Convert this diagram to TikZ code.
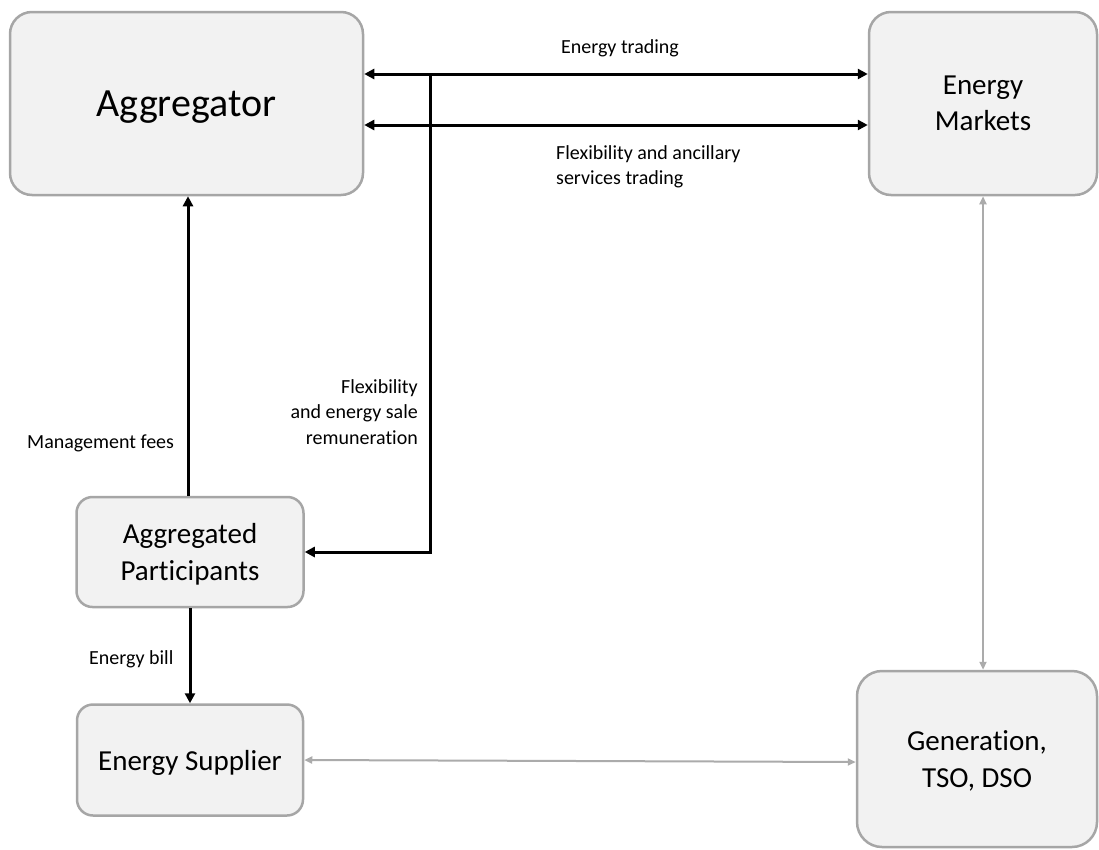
\documentclass[tikz,border=0pt]{standalone}
\usepackage{fontspec}
\setmainfont{Carlito}[Ligatures=NoCommon]
\usetikzlibrary{arrows.meta}
\definecolor{boxfill}{HTML}{F2F2F2}
\definecolor{boxline}{HTML}{A6A6A6}
\definecolor{linkgray}{HTML}{ABABAB}

\begin{document}
\begin{tikzpicture}[x=1pt, y=-1pt,
	box/.style={draw=boxline, fill=boxfill, line width=2.5pt, rounded corners=#1, align=center, inner sep=0pt, text depth=0pt},
	box/.default=18pt,
	lbl/.style={inner sep=0pt, font=\fontsize{20}{25.5}\selectfont},
	blk/.style={black, line width=3pt, arrows={-Triangle[length=10pt, width=10pt]}},
	blkboth/.style={black, line width=3pt, arrows={Triangle[length=10pt, width=10pt]-Triangle[length=10pt, width=10pt]}},
	gry/.style={linkgray, line width=2pt, arrows={Triangle[length=8pt, width=7pt]-Triangle[length=8pt, width=7pt]}}]
	\useasboundingbox (0,0) rectangle (1099,849);
	% boxes
	\node[box=22pt, minimum width=353pt, minimum height=183pt, font=\fontsize{40}{48}\selectfont] (agg) at (186.5,103.5) {Aggregator};
	\node[box=22pt, minimum width=228pt, minimum height=183pt, font=\fontsize{29}{36}\selectfont] (mkt) at (983,103.5) {Energy\\Markets};
	\node[box=16pt, minimum width=227pt, minimum height=110pt, font=\fontsize{29}{37}\selectfont] (part) at (190,552) {Aggregated\\Participants};
	\node[box=16pt, minimum width=226pt, minimum height=111pt, font=\fontsize{29}{36}\selectfont] (sup) at (190,760) {Energy Supplier};
	\node[box=25pt, minimum width=240pt, minimum height=176pt, font=\fontsize{29}{37}\selectfont] (gen) at (977,759) {Generation,\\TSO, DSO};
	% labels
	\node[lbl] (ltrade) at (620,48) {Energy trading};
	\node[lbl, anchor=west, align=left] (lanc) at (556,167) {Flexibility and ancillary\\services trading};
	\node[lbl, anchor=east, align=right] (lrem) at (418,412) {Flexibility\\and energy sale\\remuneration};
	\node[lbl, anchor=west] (lfee) at (27,443) {Management fees};
	\node[lbl, anchor=west] (lbill) at (89,659) {Energy bill};
	% connectors
	\coordinate (jn) at (430,74);
	\draw[blkboth] ([yshift=29.5pt]agg.east) -- ([yshift=29.5pt]mkt.west);
	\draw[blkboth] ([yshift=-21.5pt]agg.east) -- ([yshift=-21.5pt]mkt.west);
	\draw[blk] (jn) |- (part.east);
	\draw[blk] ([xshift=-2pt]part.north) -- ([xshift=-2pt]part.north |- agg.south);
	\draw[blk] (part.south) -- (sup.north);
	\draw[gry] (mkt.south) -- (mkt.south |- gen.north);
	\draw[gry] (sup.east) -- ([yshift=-3pt]gen.west);
\end{tikzpicture}
\end{document}
